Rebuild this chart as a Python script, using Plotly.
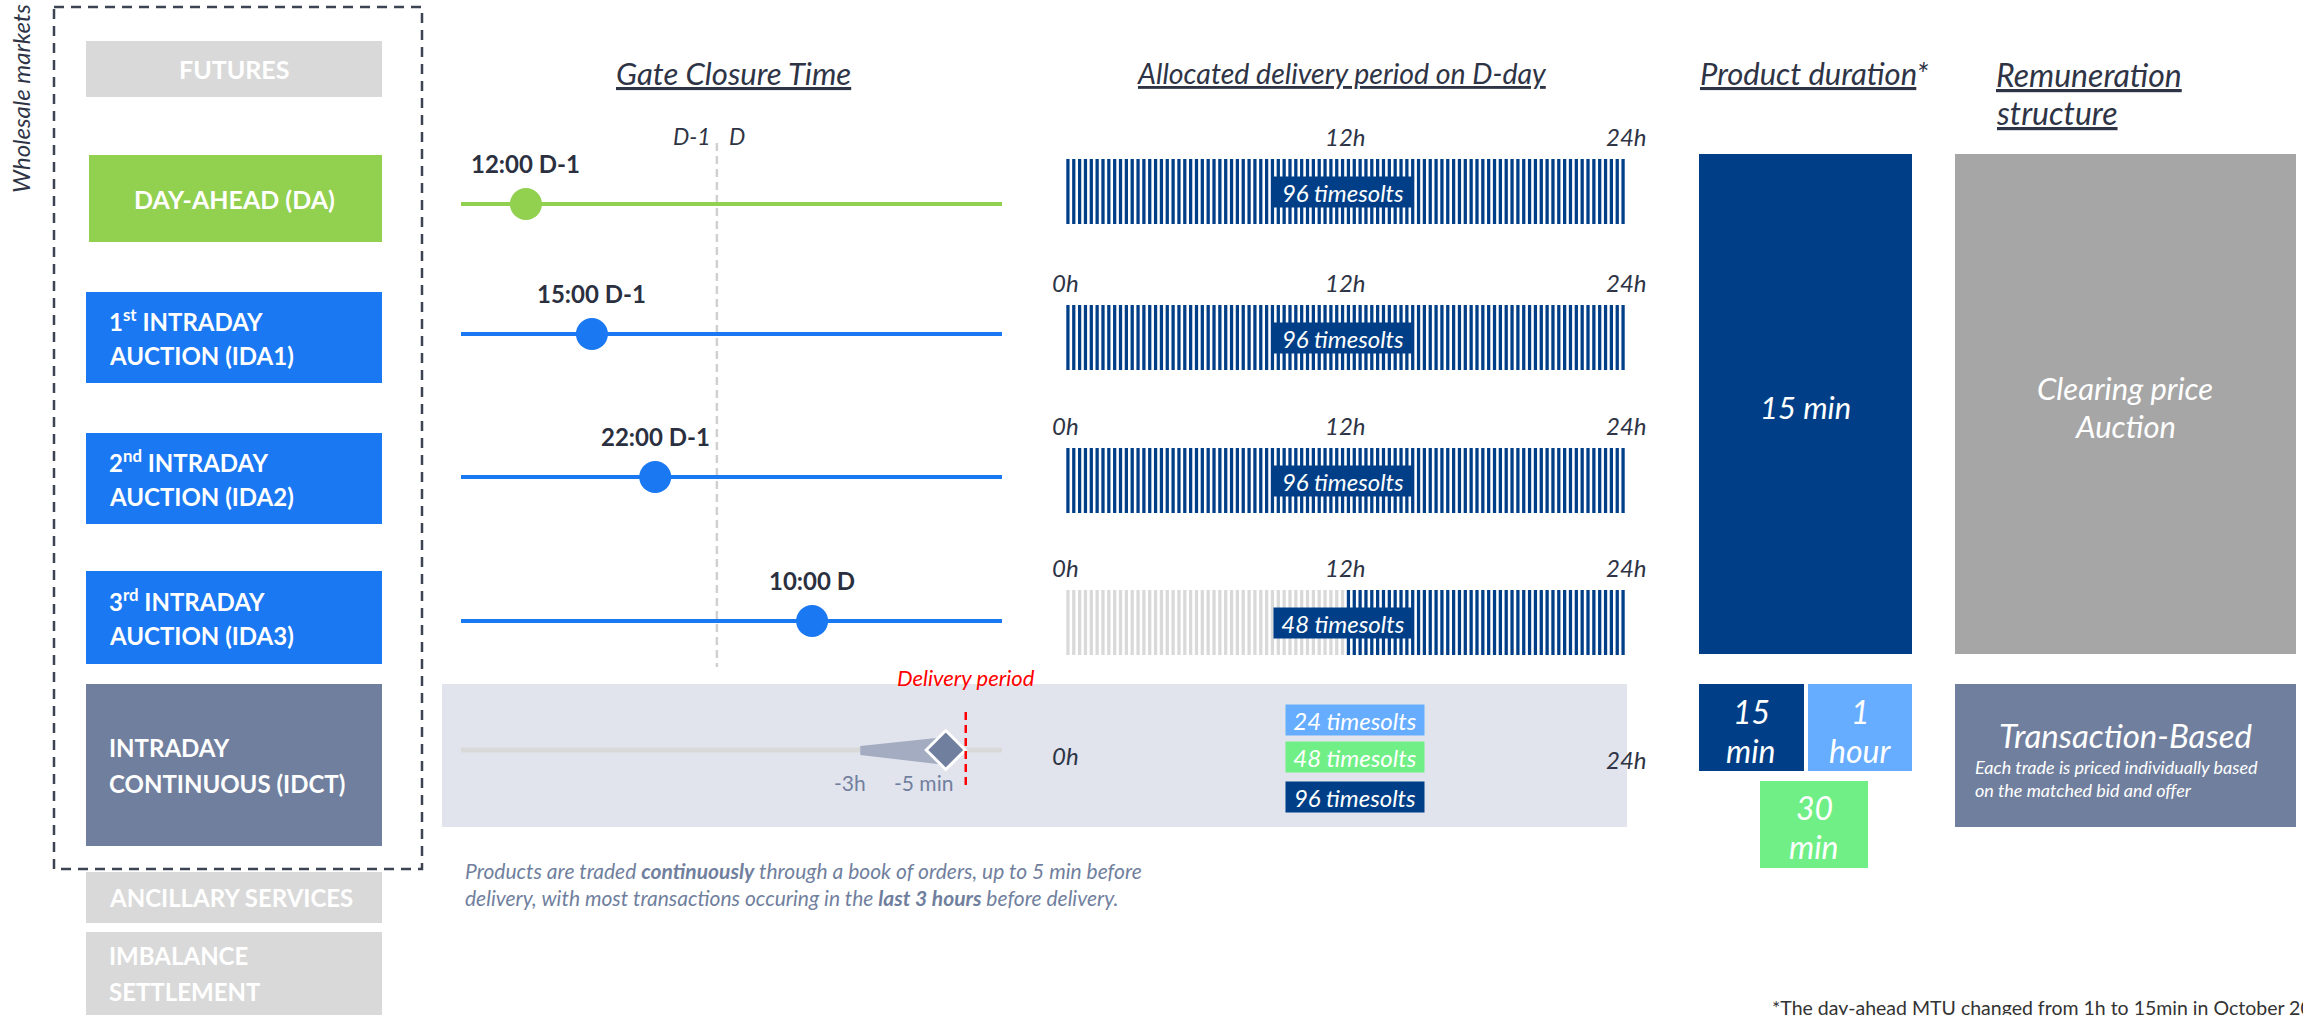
import plotly.graph_objects as go

W, H = 2303, 1015
FONT = "Lato"
DARK = "#2e3445"
SLATE = "#717f9e"
NAVY = "#003f87"
BLUE = "#1a78f2"
GREEN = "#92d050"
LBLUE = "#66adff"
LGREEN = "#70ef86"
LGRAY = "#d9d9d9"

# ---------------- data ----------------
market_lines = [
    ["FUTURES"],
    ["DAY-AHEAD (DA)"],
    ["1<sup>st</sup> INTRADAY", "AUCTION (IDA1)"],
    ["2<sup>nd</sup> INTRADAY", "AUCTION (IDA2)"],
    ["3<sup>rd</sup> INTRADAY", "AUCTION (IDA3)"],
    ["INTRADAY", "CONTINUOUS (IDCT)"],
    ["ANCILLARY SERVICES"],
    ["IMBALANCE", "SETTLEMENT"],
]
market_colors = [LGRAY, GREEN, BLUE, BLUE, BLUE, SLATE, LGRAY, LGRAY]
market_centered = [True, True, False, False, False, False, False, False]

auction_rows = ["DA", "IDA1", "IDA2", "IDA3"]
auction_colors = [GREEN, BLUE, BLUE, BLUE]
gate_labels = ["12:00 D-1", "15:00 D-1", "22:00 D-1", "10:00 D"]
gate_pos = [0.120, 0.242, 0.359, 0.649]     # position on the schematic D-1 / D timeline
day_boundary = 0.473                         # D-1 | D

slots_per_day = 96
active_slots = [96, 96, 96, 48]
slot_labels = ["96 timesolts", "96 timesolts", "96 timesolts", "48 timesolts"]
hour_ticks = [[12, 24], [0, 12, 24], [0, 12, 24], [0, 12, 24]]

idct_labels = ["24 timesolts", "48 timesolts", "96 timesolts"]
idct_colors = [LBLUE, LGREEN, NAVY]
idct_window = [0.738, 0.896]                 # -3h ... -5 min before delivery
idct_window_labels = ["-3h", "-5 min"]
delivery_pos = 0.933

# ---------------- layout constants (pixels) ----------------
box_x0, box_x1 = 86, 382
box_y = [(41, 97), (155, 242), (292, 383), (433, 524), (571, 664), (684, 846), (872, 923), (932, 1015)]
line_y = [204, 334, 477, 621]
bar_top = [159, 305, 448, 590]
BAR_H = 65
idct_y = 750
TL = (461, 1002)
SL = (1065, 1626)

fig = go.Figure()
shapes = []
ann = []


def text(x, y, s, size, color=DARK, xref="x", xanchor="center", **kw):
    ann.append(dict(x=x, y=y, xref=xref, yref="y", text=s, showarrow=False,
                    xanchor=xanchor, yanchor="middle",
                    font=dict(family=FONT, size=size, color=color), **kw))


def rect(x0, y0, x1, y1, color, **kw):
    shapes.append(dict(type="rect", xref="x", yref="y", x0=x0, x1=x1, y0=y0, y1=y1,
                       fillcolor=color, line=dict(width=0), layer="below", **kw))


# left column: market boxes
for i, lines in enumerate(market_lines):
    y0, y1 = box_y[i]
    x0 = 89 if i == 1 else box_x0
    rect(x0, y0, box_x1, y1, market_colors[i])
    n = len(lines)
    for k, s in enumerate(lines):
        yy = (y0 + y1) / 2 + (k - (n - 1) / 2) * 36
        if market_centered[i]:
            text((box_x0 + box_x1) / 2, yy, "<b>%s</b>" % s, 25, "white")
        else:
            text(107, yy, "<b>%s</b>" % s, 24, "white", xanchor="left")

shapes.append(dict(type="rect", xref="x", yref="y", x0=54, x1=422, y0=7, y1=869,
                   line=dict(color="#3c4352", width=2.5, dash="10px,7px"), layer="above"))
text(20, 99, "<i>Wholesale markets</i>", 24, DARK, textangle=-90)

# headers
text(733, 73, "<i><u>Gate Closure Time</u></i>", 31)
text(1342, 73, "<i><u>Allocated delivery period on D-day</u></i>", 28.5)
text(1698, 73, "<i><u>Product duration</u>*</i>", 31, xanchor="left")
text(1994, 74, "<i><u>Remuneration</u></i>", 32, xanchor="left")
text(1994, 112, "<i><u>structure</u></i>", 32, xanchor="left")

# IDCT panel background
rect(442, 684, 1627, 827, "#e1e4ec")

# gate closure timelines
shapes.append(dict(type="line", xref="x2", yref="y", x0=day_boundary, x1=day_boundary, y0=143, y1=667,
                   line=dict(color="#d0d0d0", width=2.5, dash="8px,5px"), layer="below"))
text(day_boundary, 136, "<i>D-1</i>", 23, xref="x2", xshift=-25)
text(day_boundary, 136, "<i>D</i>", 23, xref="x2", xshift=20)

for r in range(len(auction_rows)):
    fig.add_trace(go.Scatter(x=[0, 1], y=[line_y[r]] * 2, mode="lines", xaxis="x2", yaxis="y",
                             line=dict(color=auction_colors[r], width=4), hoverinfo="skip"))
    fig.add_trace(go.Scatter(x=[gate_pos[r]], y=[line_y[r]], mode="markers", xaxis="x2", yaxis="y",
                             marker=dict(size=32, color=auction_colors[r]), hoverinfo="skip"))
    text(gate_pos[r], line_y[r] - 41, "<b>%s</b>" % gate_labels[r], 24, "#2b3040", xref="x2")

    # delivery slots of D-day
    xs = [(i + 0.5) * 24 / slots_per_day for i in range(slots_per_day)]
    first_active = slots_per_day - active_slots[r]
    cols = [NAVY if i >= first_active else LGRAY for i in range(slots_per_day)]
    fig.add_trace(go.Bar(x=xs, y=[BAR_H] * slots_per_day, base=bar_top[r], width=0.14,
                         marker=dict(color=cols, line=dict(width=0)),
                         xaxis="x3", yaxis="y", hoverinfo="skip"))
    for h in hour_ticks[r]:
        text(h, bar_top[r] - 23, "<i>%dh</i>" % h, 24, xref="x3")
    ann.append(dict(x=11.9, y=bar_top[r] + BAR_H / 2, xref="x3", yref="y", showarrow=False,
                    text="<i>%s</i>" % slot_labels[r], bgcolor=NAVY, width=136, height=28,
                    font=dict(family=FONT, size=24, color="white")))

# intraday continuous timeline
fig.add_trace(go.Scatter(x=[0, 1], y=[idct_y] * 2, mode="lines", xaxis="x2", yaxis="y",
                         line=dict(color=LGRAY, width=5), hoverinfo="skip"))
fig.add_trace(go.Scatter(x=[idct_window[0], idct_window[1], idct_window[1], idct_window[0]],
                         y=[746, 737, 765, 755], fill="toself", fillcolor="#a4acc2", mode="lines",
                         line=dict(width=0), xaxis="x2", yaxis="y", hoverinfo="skip"))
fig.add_trace(go.Scatter(x=[idct_window[1]], y=[idct_y], mode="markers", xaxis="x2", yaxis="y",
                         marker=dict(symbol="diamond", size=30, color=SLATE, line=dict(color="white", width=3)),
                         hoverinfo="skip"))
shapes.append(dict(type="line", xref="x2", yref="y", x0=delivery_pos, x1=delivery_pos, y0=712, y1=787,
                   line=dict(color="#ff0000", width=2.5, dash="8px,5px"), layer="above"))
text(delivery_pos, 677, "<i>Delivery period</i>", 22, "#ff0000", xref="x2")
text(idct_window[0], 782, idct_window_labels[0], 21, SLATE, xref="x2", xshift=-10)
text(idct_window[1], 782, idct_window_labels[1], 21, SLATE, xref="x2", xshift=-22)

text(0, 755, "<i>0h</i>", 24, xref="x3")
text(24, 759, "<i>24h</i>", 24, xref="x3")
for k, (lab, col) in enumerate(zip(idct_labels, idct_colors)):
    ann.append(dict(x=12.4, y=[720, 757, 797][k], xref="x3", yref="y", showarrow=False,
                    text="<i>%s</i>" % lab, bgcolor=col, width=136, height=28,
                    font=dict(family=FONT, size=24, color="white")))

text(463, 870, "<i>Products are traded <b>continuously</b> through a book of orders, up to 5 min before</i>",
     21, SLATE, xanchor="left")
text(463, 897, "<i>delivery, with most transactions occuring in the <b>last 3 hours</b> before delivery.</i>",
     21, SLATE, xanchor="left")

# product duration
rect(1699, 154, 1912, 654, NAVY)
text(1805, 407, "<i>15 min</i>", 31, "white")
rect(1699, 684, 1804, 771, NAVY)
text(1751, 711, "<i>15</i>", 32, "white")
text(1751, 750, "<i>min</i>", 32, "white")
rect(1808, 684, 1912, 771, LBLUE)
text(1860, 711, "<i>1</i>", 32, "white")
text(1860, 750, "<i>hour</i>", 32, "white")
rect(1760, 781, 1868, 868, LGREEN)
text(1814, 807, "<i>30</i>", 32, "white")
text(1814, 846, "<i>min</i>", 32, "white")

# remuneration
rect(1955, 154, 2296, 654, "#a6a6a6")
text(2125, 388, "<i>Clearing price</i>", 31, "white")
text(2125, 426, "<i>Auction</i>", 31, "white")
rect(1955, 684, 2296, 827, SLATE)
text(2125, 735, "<i>Transaction-Based</i>", 33, "white")
text(1973, 767, "<i>Each trade is priced individually based</i>", 18, "white", xanchor="left")
text(1973, 790, "<i>on the matched bid and offer</i>", 18, "white", xanchor="left")

text(1770, 1007, "*The day-ahead MTU changed from 1h to 15min in October 2025", 19.5, "#333333", xanchor="left")

hidden = dict(visible=False, showgrid=False, zeroline=False, fixedrange=True)
fig.update_layout(
    width=W, height=H, autosize=False,
    margin=dict(l=0, r=0, t=0, b=0, pad=0),
    paper_bgcolor="white", plot_bgcolor="rgba(0,0,0,0)",
    showlegend=False, hovermode=False, barmode="overlay",
    xaxis=dict(range=[0, W], domain=[0, 1], **hidden),
    yaxis=dict(range=[H, 0], domain=[0, 1], **hidden),
    xaxis2=dict(range=[0, 1], domain=[TL[0] / W, TL[1] / W], anchor="y", **hidden),
    xaxis3=dict(range=[0, 24], domain=[SL[0] / W, SL[1] / W], anchor="y", **hidden),
    shapes=shapes, annotations=ann,
)
# keep the main pixel axis in use
fig.add_trace(go.Scatter(x=[0], y=[0], mode="markers", marker=dict(opacity=0), hoverinfo="skip"))

fig.write_html("out.html", config={"displayModeBar": False},
               post_script="document.body.style.margin='0';document.body.style.overflow='hidden';")
